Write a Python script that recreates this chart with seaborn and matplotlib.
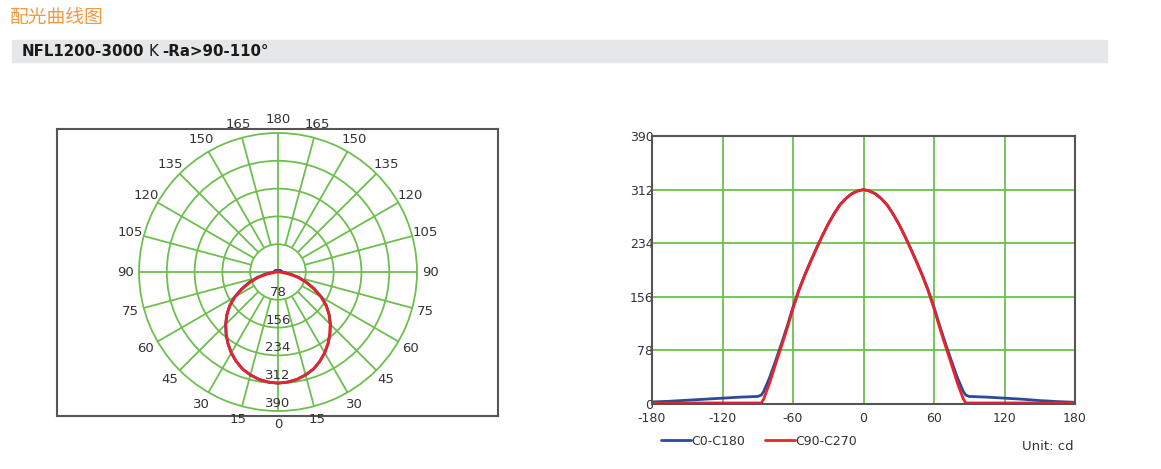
import numpy as np
import pandas as pd
import seaborn as sns
import matplotlib.pyplot as plt
from matplotlib.patches import Rectangle
from matplotlib.offsetbox import TextArea, HPacker, AnchoredOffsetbox

# ---- data ----
angles = [-180, -165, -150, -135, -120, -105, -90, -87, -85, -80, -75, -70, -65, -60, -55,
          -50, -45, -40, -35, -30, -25, -20, -15, -10, -5, 0, 5, 10, 15, 20, 25, 30, 35,
          40, 45, 50, 55, 60, 65, 70, 75, 80, 85, 87, 90, 105, 120, 135, 150, 165, 180]
c0_c180 = [3, 4, 5.5, 7, 8.5, 10, 11, 13, 18, 38, 62, 87, 113, 141, 166,
           188, 208, 227, 245, 262, 277, 290, 299, 306, 310, 312, 310, 306, 299, 290, 277, 262, 245,
           227, 208, 188, 166, 141, 113, 87, 62, 38, 18, 13, 11, 10, 8.5, 7, 5, 3.5, 2.5]
c90_c270 = [1.5, 1.5, 1.5, 1.5, 1.5, 1.5, 1.5, 1.5, 7, 30, 57, 83, 110, 139, 165,
            187, 207, 226, 245, 262, 277, 290, 299, 306, 310, 312, 310, 306, 299, 290, 277, 262, 245,
            226, 207, 187, 165, 139, 110, 83, 57, 30, 7, 1.5, 1.5, 1.5, 1.5, 1.5, 1.5, 1.5, 1.5]
series_names = ["C0-C180", "C90-C270"]
ring_values = [78, 156, 234, 312, 390]
y_ticks = [0, 78, 156, 234, 312, 390]
x_ticks = [-180, -120, -60, 0, 60, 120, 180]

title = "配光曲线图"
unit_text = "Unit: cd"

GREEN = "#6DBF4E"
BLUE = "#2C4A9C"
RED = "#E8232C"
TXT = "#333333"

df = pd.DataFrame({"angle": angles * 2,
                   "value": c0_c180 + c90_c270,
                   "curve": [series_names[0]] * len(angles) + [series_names[1]] * len(angles)})
df["theta"] = np.radians(df["angle"])

sns.set_style("white")
plt.rcParams['font.family'] = ['DejaVu Sans', 'Noto Sans CJK SC']
plt.rcParams['axes.unicode_minus'] = False

W, H = 1161, 469
fig = plt.figure(figsize=(W / 100, H / 100), dpi=100)

def frac(x0, y0, x1, y1):
    return [x0 / W, 1 - y1 / H, (x1 - x0) / W, (y1 - y0) / H]

# ---- header ----
fig.text(10 / W, 1 - 17 / H, title, fontsize=13.5, color="#F39A3C",
         family=['Noto Sans CJK SC', 'DejaVu Sans'], va="center", ha="left")
fig.add_artist(Rectangle((12 / W, 1 - 62 / H), (1107 - 12) / W, 22 / H,
                         transform=fig.transFigure, color="#E6E7E8", zorder=0))
parts = [TextArea("NFL1200-3000", textprops=dict(fontsize=10.8, fontweight="bold", color="#1a1a1a")),
         TextArea("K", textprops=dict(fontsize=10.8, color="#1a1a1a")),
         TextArea("-Ra>90-110°", textprops=dict(fontsize=10.8, fontweight="bold", color="#1a1a1a"))]
pack = HPacker(children=parts, pad=0, sep=3, align="baseline")
fig.add_artist(AnchoredOffsetbox(loc="center left", child=pack, frameon=False, pad=0,
                                 borderpad=0, bbox_to_anchor=(22 / W, 1 - 51 / H),
                                 bbox_transform=fig.transFigure))

# ---- polar chart frame ----
box = fig.add_axes(frac(57, 129, 498, 416))
box.set_xticks([])
box.set_yticks([])
for s in box.spines.values():
    s.set_color("#555555")
    s.set_linewidth(1.5)
box.patch.set_alpha(0)

# ---- polar chart ----
pax = fig.add_axes(frac(139, 133, 417, 411), projection="polar")
pax.set_theta_zero_location("S")
pax.set_ylim(0, 390)
pax.set_rticks(ring_values[:-1])
pax.set_yticklabels([])
pax.set_xticks([])
pax.yaxis.grid(True, color=GREEN, lw=1.3)
pax.xaxis.grid(False)
pax.spines["polar"].set_color(GREEN)
pax.spines["polar"].set_linewidth(1.3)
pax.patch.set_alpha(0)
for a in range(0, 360, 15):
    r0 = 0 if a % 90 == 0 else ring_values[0]
    pax.vlines(np.radians(a), r0, 390, color=GREEN, lw=1.3, zorder=1)

sns.lineplot(data=df, x="theta", y="value", hue="curve", hue_order=series_names,
             palette=[BLUE, RED], sort=False, estimator=None, lw=2, legend=False, ax=pax)
pax.set_xlabel("")
pax.set_ylabel("")

for a in range(0, 181, 15):
    sides = [a] if a in (0, 180) else [a, -a]
    for t in sides:
        pax.text(np.radians(t), 428, str(a), ha="center", va="center", fontsize=9.5, color=TXT)
for v in ring_values:
    pax.text(0, v - 3, str(v), ha="center", va="bottom", fontsize=9.5, color=TXT, zorder=5)

# ---- cartesian chart ----
ax = fig.add_axes(frac(652, 136, 1075, 404))
sns.lineplot(data=df, x="angle", y="value", hue="curve", hue_order=series_names,
             palette=[BLUE, RED], sort=False, estimator=None, lw=2, legend=False, ax=ax)
ax.set_xlim(-180, 180)
ax.set_ylim(0, 390)
ax.set_xticks(x_ticks)
ax.set_yticks(y_ticks)
ax.grid(True, color=GREEN, lw=1.3)
ax.set_axisbelow(True)
ax.tick_params(length=0, labelsize=9, labelcolor=TXT)
ax.tick_params(axis="x", pad=6)
ax.tick_params(axis="y", pad=-1)
ax.set_xlabel("")
ax.set_ylabel("")
for s in ax.spines.values():
    s.set_color("#555555")
    s.set_linewidth(1.5)

fig.legend(handles=ax.lines[:2], labels=series_names, loc="center left",
           bbox_to_anchor=(655 / W, 1 - 441 / H), ncol=2, frameon=False, fontsize=9,
           handlelength=2.4, handletextpad=0, columnspacing=1.6, borderpad=0,
           labelcolor=TXT)
fig.text(1074 / W, 1 - 446 / H, unit_text, ha="right", va="center", fontsize=9.5, color=TXT)

fig.savefig("out.png", dpi=100)
